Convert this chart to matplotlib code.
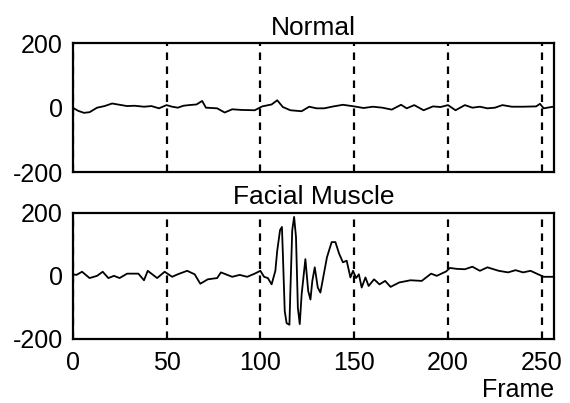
import matplotlib
matplotlib.use('Agg')
import matplotlib.pyplot as plt

# Valores (vértices visíveis de cada traço)
normal_frames = [0, 3, 6, 9, 13, 17, 21, 25, 29, 33, 38, 42, 46, 50, 53, 56, 59, 62,
                 66, 69, 71, 74, 77, 81, 85, 90, 97, 101, 106, 109, 112, 116, 122,
                 126, 130, 134, 139, 144, 150, 155, 160, 165, 170, 175, 178, 182,
                 187, 192, 196, 200, 204, 209, 213, 217, 221, 225, 229, 234, 240,
                 247, 249, 251, 256]
normal_values = [0, -10, -16, -14, 0, 5, 13, 9, 5, 6, 3, 5, -2, 8, 3, 0, 6, 8,
                 10, 21, 0, -1, -2, -15, -5, -7, -8, 4, 10, 23, 2, -8, -11,
                 3, -2, -2, 4, 9, 4, -1, 3, 0, -6, 9, -2, 8,
                 -8, 4, 2, 8, -8, 8, 0, 3, -2, 0, 8, 3, 3,
                 4, 12, -2, 3]

muscle_frames = [0, 2, 5, 9, 13, 16, 19, 22, 25, 29, 35, 38, 40, 45, 49, 53, 56, 61,
                 65, 68, 72, 77, 79, 85, 89, 93, 97, 100, 102, 104, 106, 108, 109,
                 110.5, 111.5, 112, 113, 114, 115.5, 116, 117, 118, 119, 120, 121,
                 122, 124, 125.5, 126.7, 127.7, 129, 130.6, 132, 133.5, 135.5, 138,
                 140, 142, 144, 146, 148, 149.4, 151, 152.5, 154, 156, 157.7, 160.6,
                 163.5, 166.5, 169.4, 174, 180, 186, 191, 194, 199, 201, 205, 209,
                 213, 217, 221, 227, 232, 236, 240, 244, 248, 251, 256]
muscle_values = [5, 3, 13, -7, 0, 13, -7, 0, -7, 7, 7, -14, 16, -7, 13, -3, 5, 16,
                 5, -25, -11, -7, 11, -3, 3, -3, 7, 16, -3, -7, -27, 16, 80,
                 145, 155, 70, -112, -150, -155, -48, 145, 187, 123, -102, -153,
                 -59, 53, -48, -75, -16, 27, -37, -53, -5, 59, 107,
                 107, 70, 43, 48, -5, 16, -7, 5, -37, -5, -32, -11,
                 -27, -16, -35, -21, -14, -16, 7, 0, 14, 25, 22, 21,
                 29, 16, 27, 16, 11, 18, 11, 16, 5, -3, -3]

titles = ['Normal', 'Facial Muscle']
x_ticks = [0, 50, 100, 150, 200, 250]
y_ticks = [-200, 0, 200]

plt.rcParams['font.family'] = ['Liberation Sans', 'DejaVu Sans']

fig = plt.figure(figsize=(5.70, 4.03), dpi=100)
ax_top = fig.add_axes([0.1275, 0.573, 0.8445, 0.3196])
ax_bot = fig.add_axes([0.1275, 0.159, 0.8445, 0.313])

series = [(normal_frames, normal_values), (muscle_frames, muscle_values)]
for ax, (xs, ys), title in zip([ax_top, ax_bot], series, titles):
    ax.plot(xs, ys, color='black', linewidth=1.3)
    ax.set_xlim(0, 256.5)
    ax.set_ylim(-200, 200)
    ax.set_xticks(x_ticks)
    ax.set_yticks(y_ticks)
    ax.set_yticklabels([str(v) for v in y_ticks])
    ax.grid(axis='x', color='black', linestyle=(0, (3.4, 2.9)), linewidth=1.6)
    ax.set_axisbelow(False)
    ax.tick_params(length=0, labelsize=18, pad=7)
    for s in ax.spines.values():
        s.set_linewidth(1.6)
    ax.set_title(title, fontsize=19, pad=6)

ax_top.set_xticklabels([])
ax_bot.tick_params(axis='x', pad=9)

fig.text(0.972, 1 - 397 / 403, 'Frame', ha='right', va='baseline', fontsize=18)

plt.savefig('out.png', dpi=100)
plt.close()
